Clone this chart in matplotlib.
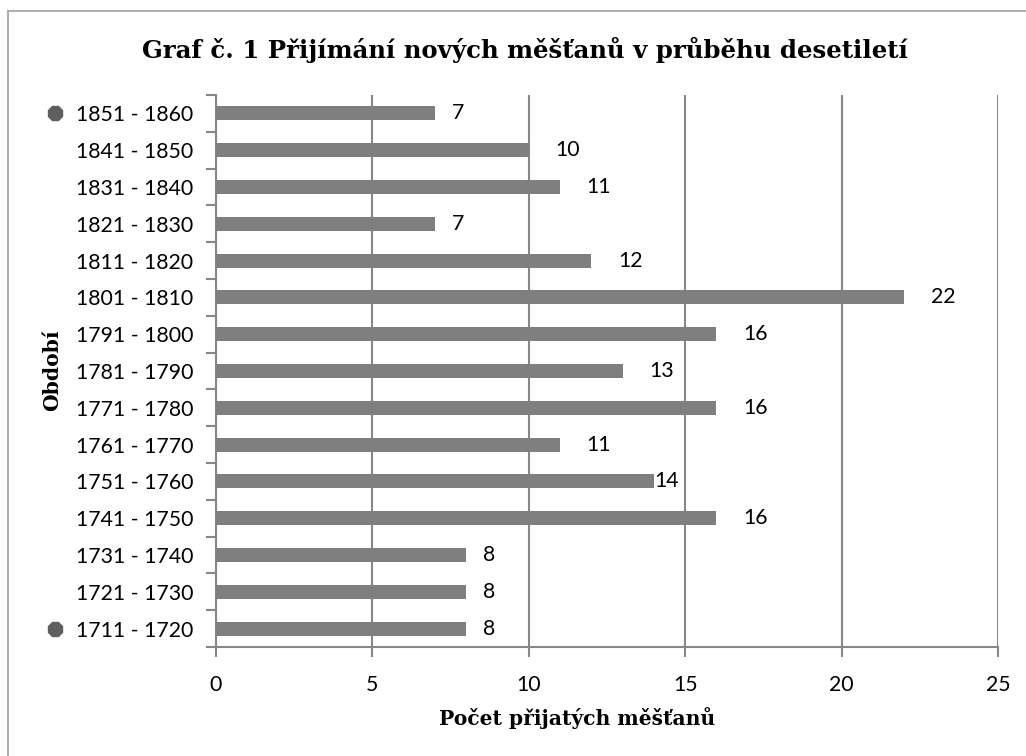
#!/usr/bin/env python3
"""Horizontal bar chart: new burghers admitted per decade."""
import matplotlib
matplotlib.use("Agg")
import matplotlib.pyplot as plt
import matplotlib.transforms as mtransforms
from matplotlib.lines import Line2D

periods = [
    "1711 - 1720", "1721 - 1730", "1731 - 1740", "1741 - 1750", "1751 - 1760",
    "1761 - 1770", "1771 - 1780", "1781 - 1790", "1791 - 1800", "1801 - 1810",
    "1811 - 1820", "1821 - 1830", "1831 - 1840", "1841 - 1850", "1851 - 1860",
]
counts = [8, 8, 8, 16, 14, 11, 16, 13, 16, 22, 12, 7, 11, 10, 7]
x_ticks = [0, 5, 10, 15, 20, 25]
marked = ["1711 - 1720", "1851 - 1860"]

title = "Graf č. 1 Přijímání nových měšťanů v průběhu desetiletí"
x_title = "Počet přijatých měšťanů"
y_title = "Období"

SANS = ["Lato", "DejaVu Sans"]
SERIF = ["DejaVu Serif"]
GRID = "#878787"
BAR = "#7f7f7f"

fig = plt.figure(figsize=(10.26, 7.56), dpi=100)
W, H = 1026, 756
ax = fig.add_axes([216 / W, 1 - 647 / H, (998 - 216) / W, (647 - 95) / H])

ypos = list(range(len(periods)))
ax.barh(ypos, counts, height=0.38, color=BAR, zorder=3)

ax.set_xlim(0, 25)
ax.set_ylim(-0.5, len(periods) - 0.5)
ax.set_xticks(x_ticks)
ax.set_xticklabels([str(t) for t in x_ticks], fontfamily=SANS, fontsize=15.3)
ax.set_yticks(ypos)
ax.set_yticklabels(periods, fontfamily=SANS, fontsize=15.3)
ax.set_yticks([i - 0.5 for i in range(len(periods) + 1)], minor=True)
ax.tick_params(axis="y", which="major", length=0, pad=16.5)
ax.tick_params(axis="y", which="minor", length=7, width=1.5, color=GRID)
ax.tick_params(axis="x", which="major", length=7, width=1.5, color=GRID, pad=13)
ax.xaxis.grid(True, color=GRID, linewidth=1.5, zorder=0)

for s in ["top", "right"]:
    ax.spines[s].set_visible(False)
for s in ["left", "bottom"]:
    ax.spines[s].set_color(GRID)
    ax.spines[s].set_linewidth(1.5)

# value labels
for y, v in zip(ypos, counts):
    off = 0.0 if v == 14 else (0.55 if v < 10 else 0.85)
    ax.text(v + off, y, str(v), va="center", ha="left",
            fontfamily=SANS, fontsize=15.3, color="black")

# small grey dots next to first and last category
trans = mtransforms.blended_transform_factory(ax.transAxes, ax.transData)
for p in marked:
    ax.plot([(55 - 216) / (998 - 216)], [periods.index(p)], marker="8",
            markersize=11, color="#5f5f5f", transform=trans, clip_on=False)

fig.text(525 / W, 1 - 50 / H, title, ha="center", va="center",
         fontfamily=SERIF, fontweight="bold", fontsize=17.6)
fig.text(577 / W, 1 - 718 / H, x_title, ha="center", va="center",
         fontfamily=SERIF, fontweight="bold", fontsize=14.6)
fig.text(52 / W, 1 - 370 / H, y_title, ha="center", va="center", rotation=90,
         fontfamily=SERIF, fontweight="bold", fontsize=14.6)

# frame (only left and top visible in the crop)
fig.add_artist(Line2D([8 / W, 8 / W], [0, 1 - 11 / H], color="#a0a0a0", linewidth=1.2,
                      transform=fig.transFigure))
fig.add_artist(Line2D([8 / W, 1], [1 - 11 / H, 1 - 11 / H], color="#a0a0a0", linewidth=1.2,
                      transform=fig.transFigure))

fig.savefig("out.png", dpi=100)
